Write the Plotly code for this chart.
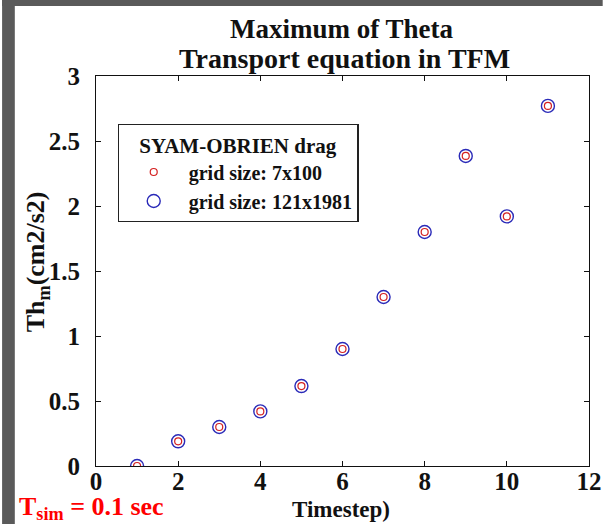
import plotly.graph_objects as go

timestep = [1, 2, 3, 4, 5, 6, 7, 8, 9, 10, 11]
theta_7x100 = [0.0, 0.19, 0.30, 0.42, 0.615, 0.90, 1.30, 1.80, 2.385, 1.92, 2.77]
theta_121x1981 = [0.0, 0.19, 0.30, 0.42, 0.615, 0.90, 1.30, 1.80, 2.385, 1.92, 2.77]
x_ticks = [0, 2, 4, 6, 8, 10, 12]
y_ticks = [0, 0.5, 1, 1.5, 2, 2.5, 3]
y_tick_labels = ["0", "0.5", "1", "1.5", "2", "2.5", "3"]

W, H = 614, 524
L, R, T, B = 96, 14, 76, 58
pw, ph = W - L - R, H - T - B

def px(x):
    return (x - L) / pw

def py(y):
    return (H - B - y) / ph

FONT = "Liberation Serif"

fig = go.Figure()
fig.add_trace(go.Scatter(
    x=timestep, y=theta_7x100, mode="markers", name="grid size: 7x100",
    marker=dict(symbol="circle-open", size=7, color="#d42020", line=dict(width=1.2)),
))
fig.add_trace(go.Scatter(
    x=timestep, y=theta_121x1981, mode="markers", name="grid size: 121x1981",
    marker=dict(symbol="circle-open", size=13, color="#2a2ab8", line=dict(width=1.4)),
))

shapes = [
    dict(type="rect", xref="paper", yref="paper", x0=px(0), x1=px(13), y0=py(0), y1=py(H),
         fillcolor="#5a5a5a", line=dict(width=0), layer="below"),
    dict(type="rect", xref="paper", yref="paper", x0=px(0), x1=px(W), y0=py(0), y1=py(6),
         fillcolor="#5a5a5a", line=dict(width=0), layer="below"),
]

annotations = [
    dict(text="<b>Maximum of Theta</b>", xref="paper", yref="paper", x=px(347), y=py(29),
         showarrow=False, font=dict(family=FONT, size=27, color="#111"), xanchor="center", yanchor="middle"),
    dict(text="<b>Transport equation in TFM</b>", xref="paper", yref="paper", x=px(350), y=py(59),
         showarrow=False, font=dict(family=FONT, size=28, color="#111"), xanchor="center", yanchor="middle"),
    dict(text="<b>Th<sub>m</sub>(cm2/s2)</b>", xref="paper", yref="paper", x=px(36), y=py(262),
         showarrow=False, textangle=-90, font=dict(family=FONT, size=26, color="#111"),
         xanchor="center", yanchor="middle"),
    dict(text="<b>Timestep)</b>", xref="paper", yref="paper", x=px(346), y=py(509),
         showarrow=False, font=dict(family=FONT, size=23, color="#111"), xanchor="center", yanchor="middle"),
    dict(text="<b>T<sub>sim</sub> = 0.1 sec</b>", xref="paper", yref="paper", x=px(15), y=py(508),
         showarrow=False, font=dict(family=FONT, size=26, color="#ff0000"), xanchor="left", yanchor="middle"),
]

fig.update_layout(
    width=W, height=H,
    margin=dict(l=L, r=R, t=T, b=B),
    paper_bgcolor="white", plot_bgcolor="white",
    showlegend=True,
    legend=dict(
        title=dict(text="<b>SYAM-OBRIEN drag</b>", side="top center", font=dict(family=FONT, size=21, color="#111")),
        x=px(118), y=py(124), xanchor="left", yanchor="top",
        bgcolor="white", bordercolor="#222", borderwidth=1.2,
        font=dict(family=FONT, size=20, color="#111"),
        itemsizing="trace", tracegroupgap=0, itemwidth=60,
    ),
    shapes=shapes, annotations=annotations,
    font=dict(family=FONT, color="#111"),
)
fig.for_each_trace(lambda t: t.update(name="<b>" + t.name + "</b>"))

fig.update_xaxes(range=[0, 12], tickvals=x_ticks, ticktext=[f"<b>{v}</b>" for v in x_ticks],
                 ticks="inside", ticklen=5, tickwidth=1, tickcolor="#111",
                 showline=True, linecolor="#111", linewidth=1.2, mirror="ticks", ticklabelstandoff=-7,
                 showgrid=False, zeroline=False, tickfont=dict(family=FONT, size=25, color="#111"))
fig.update_yaxes(range=[0, 3], tickvals=y_ticks, ticktext=[f"<b>{v}</b>" for v in y_tick_labels],
                 ticks="inside", ticklen=5, tickwidth=1, tickcolor="#111",
                 showline=True, linecolor="#111", linewidth=1.2, mirror="ticks", ticklabelstandoff=10,
                 showgrid=False, zeroline=False, tickfont=dict(family=FONT, size=25, color="#111"))

fig.write_html("out.html")
